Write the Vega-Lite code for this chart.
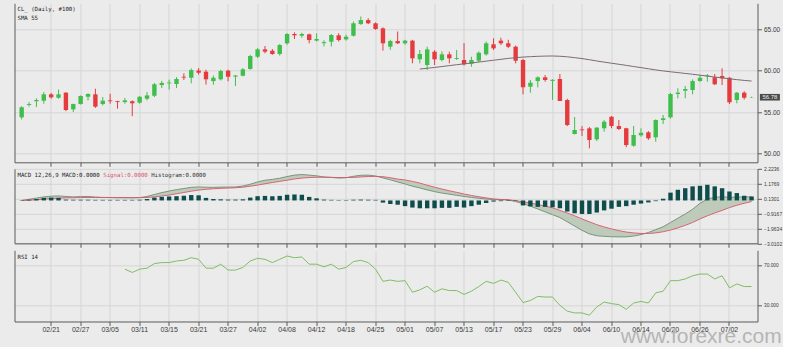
{
  "$schema": "https://vega.github.io/schema/vega-lite/v6.json",
  "background": "#ebebeb",
  "padding": {"left": 14.5, "top": 3.3, "right": 0, "bottom": 0},
  "bounds": "flush",
  "spacing": 6.5,
  "resolve": {"scale": {"x": "shared"}},
  "title": {"text": "www.forexre.com", "orient": "bottom", "anchor": "end", "font": "Liberation Sans", "fontSize": 21, "fontWeight": "normal", "color": "#b5b5b5", "offset": -6.5, "baseline": "top"},
  "config": {
    "view": {"stroke": null},
    "axis": {"domainColor": "#5a5a5a", "tickColor": "#5a5a5a", "gridColor": "#d5d5d5", "gridWidth": 1, "labelColor": "#3a3a3a", "labelFont": "Liberation Sans", "tickSize": 4}
  },
  "datasets": {
    "cl": [
      {"d":"02/15","o":54.36,"h":55.70,"l":54.10,"c":55.57,"sma":null,"macd":0.00,"sig":0.00,"hist":0.02,"rsi":null},
      {"d":"02/18","o":55.85,"h":56.20,"l":55.65,"c":55.96,"sma":null,"macd":0.08,"sig":0.02,"hist":0.05,"rsi":null},
      {"d":"02/19","o":56.30,"h":56.65,"l":55.60,"c":56.45,"sma":null,"macd":0.17,"sig":0.05,"hist":0.10,"rsi":null},
      {"d":"02/20","o":56.36,"h":57.40,"l":56.00,"c":57.13,"sma":null,"macd":0.25,"sig":0.09,"hist":0.18,"rsi":null},
      {"d":"02/21","o":57.13,"h":57.30,"l":56.60,"c":56.77,"sma":null,"macd":0.30,"sig":0.13,"hist":0.20,"rsi":null},
      {"d":"02/22","o":56.72,"h":57.70,"l":56.60,"c":57.13,"sma":null,"macd":0.32,"sig":0.16,"hist":0.18,"rsi":null},
      {"d":"02/25","o":57.33,"h":57.40,"l":55.10,"c":55.24,"sma":null,"macd":0.28,"sig":0.18,"hist":0.06,"rsi":null},
      {"d":"02/26","o":55.32,"h":56.00,"l":55.00,"c":55.96,"sma":null,"macd":0.25,"sig":0.19,"hist":0.05,"rsi":null},
      {"d":"02/27","o":55.96,"h":57.00,"l":55.90,"c":56.93,"sma":null,"macd":0.27,"sig":0.20,"hist":0.05,"rsi":null},
      {"d":"02/28","o":56.84,"h":57.25,"l":56.40,"c":57.17,"sma":null,"macd":0.28,"sig":0.21,"hist":0.05,"rsi":null},
      {"d":"03/01","o":57.13,"h":57.80,"l":55.50,"c":55.64,"sma":null,"macd":0.24,"sig":0.21,"hist":0.04,"rsi":null},
      {"d":"03/04","o":55.96,"h":56.80,"l":55.80,"c":56.36,"sma":null,"macd":0.21,"sig":0.21,"hist":0.04,"rsi":null},
      {"d":"03/05","o":56.40,"h":57.20,"l":56.00,"c":56.30,"sma":null,"macd":0.20,"sig":0.21,"hist":0.04,"rsi":null},
      {"d":"03/06","o":56.30,"h":56.35,"l":55.40,"c":56.20,"sma":null,"macd":0.19,"sig":0.20,"hist":0.04,"rsi":null},
      {"d":"03/07","o":56.20,"h":56.70,"l":56.00,"c":56.40,"sma":null,"macd":0.19,"sig":0.20,"hist":0.04,"rsi":66.5},
      {"d":"03/08","o":56.30,"h":56.40,"l":54.50,"c":56.05,"sma":null,"macd":0.18,"sig":0.20,"hist":0.04,"rsi":63.2},
      {"d":"03/11","o":56.12,"h":56.90,"l":56.00,"c":56.84,"sma":null,"macd":0.20,"sig":0.20,"hist":0.05,"rsi":66.5},
      {"d":"03/12","o":56.60,"h":57.40,"l":56.40,"c":57.00,"sma":null,"macd":0.28,"sig":0.21,"hist":0.10,"rsi":67.5},
      {"d":"03/13","o":56.96,"h":58.50,"l":56.80,"c":58.34,"sma":null,"macd":0.42,"sig":0.25,"hist":0.20,"rsi":72.1},
      {"d":"03/14","o":58.25,"h":58.75,"l":57.90,"c":58.50,"sma":null,"macd":0.55,"sig":0.31,"hist":0.25,"rsi":73.1},
      {"d":"03/15","o":58.45,"h":58.90,"l":57.70,"c":58.55,"sma":null,"macd":0.66,"sig":0.38,"hist":0.28,"rsi":73.1},
      {"d":"03/18","o":58.37,"h":59.20,"l":57.90,"c":58.98,"sma":null,"macd":0.76,"sig":0.47,"hist":0.30,"rsi":74.7},
      {"d":"03/19","o":59.25,"h":59.66,"l":58.86,"c":59.15,"sma":null,"macd":0.84,"sig":0.56,"hist":0.33,"rsi":75.4},
      {"d":"03/20","o":59.13,"h":60.26,"l":58.46,"c":60.06,"sma":null,"macd":0.92,"sig":0.65,"hist":0.38,"rsi":78.0},
      {"d":"03/21","o":60.00,"h":60.30,"l":59.50,"c":59.73,"sma":null,"macd":0.95,"sig":0.73,"hist":0.36,"rsi":76.4},
      {"d":"03/22","o":59.86,"h":60.10,"l":58.30,"c":58.94,"sma":null,"macd":0.93,"sig":0.78,"hist":0.18,"rsi":67.5},
      {"d":"03/25","o":58.73,"h":59.40,"l":58.30,"c":59.13,"sma":null,"macd":0.92,"sig":0.82,"hist":0.10,"rsi":67.5},
      {"d":"03/26","o":58.94,"h":60.10,"l":58.80,"c":59.94,"sma":null,"macd":0.94,"sig":0.85,"hist":0.08,"rsi":71.5},
      {"d":"03/27","o":59.98,"h":60.10,"l":58.70,"c":59.25,"sma":null,"macd":0.94,"sig":0.87,"hist":0.06,"rsi":65.6},
      {"d":"03/28","o":59.27,"h":59.46,"l":58.13,"c":59.40,"sma":null,"macd":0.95,"sig":0.89,"hist":0.06,"rsi":65.6},
      {"d":"03/29","o":59.37,"h":60.30,"l":59.30,"c":60.14,"sma":null,"macd":1.01,"sig":0.93,"hist":0.08,"rsi":68.2},
      {"d":"04/01","o":60.18,"h":61.90,"l":60.10,"c":61.75,"sma":null,"macd":1.14,"sig":1.00,"hist":0.20,"rsi":74.7},
      {"d":"04/02","o":61.66,"h":62.70,"l":61.50,"c":62.55,"sma":null,"macd":1.30,"sig":1.08,"hist":0.30,"rsi":77.4},
      {"d":"04/03","o":62.55,"h":62.95,"l":62.07,"c":62.27,"sma":null,"macd":1.42,"sig":1.17,"hist":0.32,"rsi":76.4},
      {"d":"04/04","o":62.39,"h":62.60,"l":61.90,"c":61.99,"sma":null,"macd":1.48,"sig":1.26,"hist":0.30,"rsi":73.1},
      {"d":"04/05","o":61.99,"h":63.20,"l":61.80,"c":63.07,"sma":null,"macd":1.56,"sig":1.34,"hist":0.32,"rsi":76.4},
      {"d":"04/08","o":63.28,"h":64.50,"l":63.10,"c":64.40,"sma":null,"macd":1.68,"sig":1.42,"hist":0.40,"rsi":79.7},
      {"d":"04/09","o":64.40,"h":64.60,"l":63.80,"c":64.24,"sma":null,"macd":1.78,"sig":1.51,"hist":0.42,"rsi":78.0},
      {"d":"04/10","o":64.20,"h":64.55,"l":63.95,"c":64.40,"sma":null,"macd":1.82,"sig":1.57,"hist":0.40,"rsi":78.7},
      {"d":"04/11","o":64.36,"h":64.45,"l":63.28,"c":63.67,"sma":null,"macd":1.78,"sig":1.61,"hist":0.25,"rsi":71.5},
      {"d":"04/12","o":63.60,"h":64.48,"l":63.50,"c":63.80,"sma":null,"macd":1.73,"sig":1.63,"hist":0.15,"rsi":71.5},
      {"d":"04/15","o":63.30,"h":63.65,"l":62.90,"c":63.42,"sma":null,"macd":1.65,"sig":1.63,"hist":0.06,"rsi":68.8},
      {"d":"04/16","o":63.47,"h":64.40,"l":62.90,"c":64.28,"sma":null,"macd":1.62,"sig":1.62,"hist":0.04,"rsi":71.5},
      {"d":"04/17","o":64.24,"h":64.50,"l":63.50,"c":63.67,"sma":null,"macd":1.57,"sig":1.61,"hist":0.03,"rsi":66.5},
      {"d":"04/18","o":63.75,"h":64.30,"l":63.60,"c":64.07,"sma":null,"macd":1.60,"sig":1.61,"hist":0.03,"rsi":68.2},
      {"d":"04/22","o":64.19,"h":65.90,"l":64.10,"c":65.69,"sma":null,"macd":1.70,"sig":1.62,"hist":0.05,"rsi":74.1},
      {"d":"04/23","o":65.60,"h":66.50,"l":65.50,"c":66.08,"sma":null,"macd":1.77,"sig":1.65,"hist":0.06,"rsi":75.4},
      {"d":"04/24","o":66.08,"h":66.30,"l":65.60,"c":65.69,"sma":null,"macd":1.78,"sig":1.68,"hist":0.05,"rsi":73.1},
      {"d":"04/25","o":65.69,"h":65.80,"l":64.90,"c":65.00,"sma":null,"macd":1.72,"sig":1.69,"hist":0.04,"rsi":66.5},
      {"d":"04/26","o":65.08,"h":65.20,"l":62.40,"c":63.28,"sma":null,"macd":1.58,"sig":1.67,"hist":-0.15,"rsi":54.3},
      {"d":"04/29","o":62.87,"h":63.70,"l":62.50,"c":63.56,"sma":null,"macd":1.45,"sig":1.60,"hist":-0.25,"rsi":55.6},
      {"d":"04/30","o":63.55,"h":64.70,"l":63.20,"c":63.28,"sma":null,"macd":1.30,"sig":1.50,"hist":-0.30,"rsi":54.3},
      {"d":"05/01","o":63.28,"h":63.70,"l":63.10,"c":63.60,"sma":null,"macd":1.16,"sig":1.44,"hist":-0.40,"rsi":55.0},
      {"d":"05/02","o":63.60,"h":63.70,"l":60.87,"c":61.47,"sma":null,"macd":1.00,"sig":1.34,"hist":-0.50,"rsi":43.4},
      {"d":"05/03","o":61.35,"h":62.47,"l":60.87,"c":61.99,"sma":60.18,"macd":0.88,"sig":1.22,"hist":-0.55,"rsi":45.8},
      {"d":"05/06","o":60.66,"h":62.87,"l":60.06,"c":62.55,"sma":60.27,"macd":0.74,"sig":1.07,"hist":-0.55,"rsi":49.4},
      {"d":"05/07","o":62.27,"h":62.45,"l":60.66,"c":61.35,"sma":60.37,"macd":0.62,"sig":0.93,"hist":-0.55,"rsi":43.4},
      {"d":"05/08","o":61.27,"h":62.30,"l":61.10,"c":61.95,"sma":60.48,"macd":0.52,"sig":0.80,"hist":-0.52,"rsi":46.8},
      {"d":"05/09","o":61.95,"h":62.27,"l":60.87,"c":61.47,"sma":60.59,"macd":0.44,"sig":0.68,"hist":-0.52,"rsi":45.1},
      {"d":"05/10","o":61.40,"h":62.47,"l":61.27,"c":61.50,"sma":60.70,"macd":0.36,"sig":0.57,"hist":-0.45,"rsi":45.1},
      {"d":"05/13","o":61.27,"h":63.30,"l":60.60,"c":60.75,"sma":60.80,"macd":0.28,"sig":0.45,"hist":-0.50,"rsi":41.2},
      {"d":"05/14","o":60.80,"h":61.66,"l":60.46,"c":61.27,"sma":60.91,"macd":0.21,"sig":0.35,"hist":-0.40,"rsi":44.4},
      {"d":"05/15","o":61.18,"h":62.30,"l":61.00,"c":62.14,"sma":61.02,"macd":0.15,"sig":0.26,"hist":-0.30,"rsi":49.1},
      {"d":"05/16","o":61.95,"h":63.50,"l":61.80,"c":63.28,"sma":61.13,"macd":0.10,"sig":0.18,"hist":-0.18,"rsi":54.3},
      {"d":"05/17","o":63.16,"h":63.88,"l":62.47,"c":62.67,"sma":61.24,"macd":0.06,"sig":0.11,"hist":-0.08,"rsi":52.3},
      {"d":"05/20","o":63.60,"h":63.95,"l":63.07,"c":63.28,"sma":61.35,"macd":0.05,"sig":0.07,"hist":-0.05,"rsi":55.6},
      {"d":"05/21","o":63.28,"h":63.70,"l":62.70,"c":62.87,"sma":61.46,"macd":0.04,"sig":0.05,"hist":-0.04,"rsi":53.3},
      {"d":"05/22","o":62.87,"h":63.00,"l":60.87,"c":61.18,"sma":61.55,"macd":-0.08,"sig":-0.02,"hist":-0.03,"rsi":43.4},
      {"d":"05/23","o":61.27,"h":61.40,"l":57.13,"c":57.98,"sma":61.62,"macd":-0.22,"sig":-0.10,"hist":-0.35,"rsi":33.0},
      {"d":"05/24","o":58.05,"h":58.86,"l":57.33,"c":58.53,"sma":61.67,"macd":-0.40,"sig":-0.18,"hist":-0.42,"rsi":35.2},
      {"d":"05/27","o":58.73,"h":59.30,"l":57.97,"c":59.18,"sma":61.71,"macd":-0.60,"sig":-0.28,"hist":-0.45,"rsi":39.2},
      {"d":"05/28","o":59.18,"h":59.46,"l":58.65,"c":58.86,"sma":61.74,"macd":-0.80,"sig":-0.40,"hist":-0.45,"rsi":38.6},
      {"d":"05/29","o":58.75,"h":58.95,"l":56.45,"c":58.88,"sma":61.75,"macd":-1.00,"sig":-0.52,"hist":-0.48,"rsi":38.6},
      {"d":"05/30","o":58.98,"h":59.58,"l":56.33,"c":56.33,"sma":61.72,"macd":-1.20,"sig":-0.70,"hist":-0.55,"rsi":30.3},
      {"d":"05/31","o":56.45,"h":56.60,"l":53.30,"c":53.43,"sma":61.65,"macd":-1.50,"sig":-0.88,"hist":-0.78,"rsi":24.4},
      {"d":"06/03","o":52.35,"h":54.40,"l":52.30,"c":52.83,"sma":61.55,"macd":-1.80,"sig":-1.08,"hist":-0.90,"rsi":22.7},
      {"d":"06/04","o":52.90,"h":53.30,"l":52.10,"c":52.80,"sma":61.44,"macd":-2.10,"sig":-1.30,"hist":-0.95,"rsi":22.7},
      {"d":"06/05","o":53.03,"h":53.20,"l":50.63,"c":51.63,"sma":61.30,"macd":-2.35,"sig":-1.50,"hist":-0.95,"rsi":20.4},
      {"d":"06/06","o":51.71,"h":53.20,"l":51.50,"c":53.11,"sma":61.15,"macd":-2.48,"sig":-1.70,"hist":-0.85,"rsi":28.6},
      {"d":"06/07","o":53.04,"h":54.04,"l":52.63,"c":53.83,"sma":61.01,"macd":-2.52,"sig":-1.86,"hist":-0.70,"rsi":33.6},
      {"d":"06/10","o":54.43,"h":54.50,"l":53.04,"c":53.31,"sma":60.88,"macd":-2.55,"sig":-2.00,"hist":-0.58,"rsi":32.0},
      {"d":"06/11","o":53.31,"h":54.04,"l":52.83,"c":52.95,"sma":60.75,"macd":-2.56,"sig":-2.12,"hist":-0.45,"rsi":31.0},
      {"d":"06/12","o":53.04,"h":53.10,"l":50.75,"c":51.02,"sma":60.62,"macd":-2.56,"sig":-2.22,"hist":-0.40,"rsi":26.3},
      {"d":"06/13","o":50.94,"h":53.31,"l":50.82,"c":52.23,"sma":60.48,"macd":-2.50,"sig":-2.28,"hist":-0.30,"rsi":32.6},
      {"d":"06/14","o":52.19,"h":53.04,"l":52.02,"c":52.50,"sma":60.35,"macd":-2.40,"sig":-2.32,"hist":-0.22,"rsi":34.2},
      {"d":"06/17","o":52.55,"h":52.71,"l":51.63,"c":51.83,"sma":60.21,"macd":-2.25,"sig":-2.32,"hist":-0.14,"rsi":32.6},
      {"d":"06/18","o":51.95,"h":54.12,"l":51.42,"c":54.04,"sma":60.07,"macd":-2.05,"sig":-2.28,"hist":-0.05,"rsi":42.8},
      {"d":"06/19","o":54.04,"h":54.64,"l":53.55,"c":54.24,"sma":59.95,"macd":-1.85,"sig":-2.20,"hist":0.12,"rsi":44.4},
      {"d":"06/20","o":54.36,"h":57.30,"l":54.20,"c":57.17,"sma":59.85,"macd":-1.55,"sig":-2.08,"hist":0.55,"rsi":55.0},
      {"d":"06/21","o":57.17,"h":57.86,"l":56.65,"c":57.33,"sma":59.75,"macd":-1.25,"sig":-1.93,"hist":0.75,"rsi":55.0},
      {"d":"06/24","o":57.57,"h":58.13,"l":56.65,"c":57.77,"sma":59.65,"macd":-0.95,"sig":-1.75,"hist":0.86,"rsi":56.7},
      {"d":"06/25","o":57.65,"h":58.94,"l":57.13,"c":58.73,"sma":59.55,"macd":-0.62,"sig":-1.55,"hist":0.99,"rsi":59.9},
      {"d":"06/26","o":58.73,"h":59.46,"l":58.65,"c":59.13,"sma":59.44,"macd":-0.20,"sig":-1.30,"hist":1.03,"rsi":61.6},
      {"d":"06/27","o":59.30,"h":59.58,"l":58.65,"c":59.40,"sma":59.33,"macd":0.10,"sig":-1.08,"hist":1.10,"rsi":61.6},
      {"d":"06/28","o":59.18,"h":59.58,"l":58.25,"c":58.34,"sma":59.22,"macd":0.22,"sig":-0.88,"hist":0.99,"rsi":56.7},
      {"d":"07/01","o":59.34,"h":60.26,"l":58.25,"c":59.06,"sma":59.11,"macd":0.26,"sig":-0.70,"hist":0.86,"rsi":59.9},
      {"d":"07/02","o":59.13,"h":59.20,"l":55.96,"c":56.17,"sma":59.00,"macd":0.22,"sig":-0.50,"hist":0.63,"rsi":47.8},
      {"d":"07/03","o":56.45,"h":57.40,"l":56.05,"c":57.33,"sma":58.90,"macd":0.24,"sig":-0.34,"hist":0.52,"rsi":51.7},
      {"d":"07/05","o":57.33,"h":57.50,"l":56.50,"c":56.72,"sma":58.81,"macd":0.25,"sig":-0.20,"hist":0.33,"rsi":49.1},
      {"d":"07/08","o":56.75,"h":56.85,"l":56.70,"c":56.78,"sma":58.73,"macd":0.25,"sig":-0.08,"hist":0.28,"rsi":49.1}
    ]
  },
  "vconcat": [
    {
      "width": 743,
      "height": 159,
      "data": {"name": "cl"},
      "resolve": {"axis": {"y": "independent"}},
      "encoding": {
        "x": {"field": "d", "type": "ordinal", "scale": {"paddingInner": 0, "paddingOuter": 0.387, "align": 0.61},
              "axis": {"title": null, "labels": false, "grid": true, "bandPosition": 0.5, "values": ["02/21","02/27","03/05","03/11","03/15","03/21","03/27","04/02","04/08","04/12","04/18","04/25","05/01","05/07","05/13","05/17","05/23","05/29","06/04","06/10","06/14","06/20","06/26","07/02"]}}
      },
      "layer": [
        {
          "mark": {"type": "rule", "strokeWidth": 1},
          "encoding": {
            "y": {"field": "l", "type": "quantitative", "scale": {"domain": [48.94, 68.1], "nice": false, "zero": false},
                  "axis": {"orient": "right", "title": null, "values": [50, 55, 60, 65], "format": ".2f", "grid": true, "labelFontSize": 6.5, "labelPadding": 2}},
            "y2": {"field": "h"},
            "color": {"condition": {"test": "datum.c >= datum.o", "value": "#3fbe4c"}, "value": "#e53b3f"}
          }
        },
        {
          "mark": {"type": "bar", "size": 4.4},
          "encoding": {
            "y": {"field": "o", "type": "quantitative", "axis": null},
            "y2": {"field": "c"},
            "color": {"condition": {"test": "datum.c >= datum.o", "value": "#3fbe4c"}, "value": "#e53b3f"}
          }
        },
        {
          "mark": {"type": "line", "color": "#7b6a70", "strokeWidth": 1},
          "encoding": {
            "y": {"field": "sma", "type": "quantitative", "axis": {"orient": "left", "title": null, "labels": false, "ticks": false, "grid": false, "domain": true}}
          }
        },
        {
          "data": {"values": [{"d": "07/08", "p": 56.78}]},
          "mark": {"type": "point", "shape": "M-1,-0.33H1V0.33H-1Z", "size": 400, "filled": true, "color": "#4a4a4a", "opacity": 1, "xOffset": 18.3},
          "encoding": {"y": {"field": "p", "type": "quantitative", "axis": null}}
        },
        {
          "data": {"values": [{"d": "07/08", "p": 56.78}]},
          "mark": {"type": "text", "dx": 18.3, "font": "Liberation Sans", "fontSize": 6, "color": "#eeeeee"},
          "encoding": {"y": {"field": "p", "type": "quantitative", "axis": null}, "text": {"field": "p", "type": "quantitative", "format": ".2f"}}
        },
        {
          "data": {"values": [{}]},
          "mark": {"type": "text", "text": "CL_ (Daily, #100)", "align": "left", "baseline": "top", "dx": -4.2, "dy": 2.5, "font": "DejaVu Sans Mono", "fontSize": 5.7, "color": "#222222"},
          "encoding": {"x": {"datum": "02/15", "type": "ordinal"}, "y": {"datum": 68.1, "type": "quantitative", "axis": null}}
        },
        {
          "data": {"values": [{}]},
          "mark": {"type": "text", "text": "SMA 55", "align": "left", "baseline": "top", "dx": -4.2, "dy": 11.8, "font": "DejaVu Sans Mono", "fontSize": 5.7, "color": "#222222"},
          "encoding": {"x": {"datum": "02/15", "type": "ordinal"}, "y": {"datum": 68.1, "type": "quantitative", "axis": null}}
        }
      ]
    },
    {
      "width": 743,
      "height": 74.5,
      "data": {"name": "cl"},
      "resolve": {"axis": {"y": "independent"}},
      "encoding": {
        "x": {"field": "d", "type": "ordinal", "scale": {"paddingInner": 0, "paddingOuter": 0.387, "align": 0.61},
              "axis": {"title": null, "labels": false, "grid": true, "bandPosition": 0.5, "values": ["02/21","02/27","03/05","03/11","03/15","03/21","03/27","04/02","04/08","04/12","04/18","04/25","05/01","05/07","05/13","05/17","05/23","05/29","06/04","06/10","06/14","06/20","06/26","07/02"]}}
      },
      "layer": [
        {
          "mark": {"type": "area", "color": "#b9c8b5", "opacity": 0.9},
          "encoding": {
            "y": {"field": "macd", "type": "quantitative", "scale": {"domain": [-3.0102, 2.2236], "nice": false, "zero": false},
                  "axis": {"orient": "right", "title": null, "values": [-3.0102, -1.9634, -0.9167, 0.1301, 1.1769, 2.2236], "format": ".4f", "grid": true, "labelFontSize": 5, "labelPadding": 2}},
            "y2": {"field": "sig"}
          }
        },
        {
          "mark": {"type": "line", "color": "#6f8d70", "strokeWidth": 0.9},
          "encoding": {
            "y": {"field": "macd", "type": "quantitative", "axis": {"orient": "left", "title": null, "labels": false, "ticks": false, "grid": false, "domain": true}}
          }
        },
        {
          "mark": {"type": "line", "color": "#d9566b", "strokeWidth": 0.9},
          "encoding": {"y": {"field": "sig", "type": "quantitative", "axis": null}}
        },
        {
          "mark": {"type": "bar", "size": 4.4, "color": "#0f4d4d"},
          "encoding": {"y": {"field": "hist", "type": "quantitative", "axis": null}}
        },
        {
          "data": {"values": [{}]},
          "mark": {"type": "text", "text": "MACD 12,26,9 MACD:0.0000", "align": "left", "baseline": "top", "dx": -4.2, "dy": 3, "font": "DejaVu Sans Mono", "fontSize": 5.7, "color": "#222222"},
          "encoding": {"x": {"datum": "02/15", "type": "ordinal"}, "y": {"datum": 2.2236, "type": "quantitative", "axis": null}}
        },
        {
          "data": {"values": [{}]},
          "mark": {"type": "text", "text": "Signal:0.0000", "align": "left", "baseline": "top", "dx": 81.6, "dy": 3, "font": "DejaVu Sans Mono", "fontSize": 5.7, "color": "#d9566b"},
          "encoding": {"x": {"datum": "02/15", "type": "ordinal"}, "y": {"datum": 2.2236, "type": "quantitative", "axis": null}}
        },
        {
          "data": {"values": [{}]},
          "mark": {"type": "text", "text": "Histogram:0.0000", "align": "left", "baseline": "top", "dx": 129.5, "dy": 3, "font": "DejaVu Sans Mono", "fontSize": 5.7, "color": "#333333"},
          "encoding": {"x": {"datum": "02/15", "type": "ordinal"}, "y": {"datum": 2.2236, "type": "quantitative", "axis": null}}
        }
      ]
    },
    {
      "width": 743,
      "height": 71.2,
      "data": {"name": "cl"},
      "resolve": {"axis": {"y": "independent"}},
      "encoding": {
        "x": {"field": "d", "type": "ordinal", "scale": {"paddingInner": 0, "paddingOuter": 0.387, "align": 0.61},
              "axis": {"title": null, "labels": true, "labelAngle": 0, "labelFontSize": 7, "labelPadding": 0, "grid": true, "bandPosition": 0.5, "values": ["02/21","02/27","03/05","03/11","03/15","03/21","03/27","04/02","04/08","04/12","04/18","04/25","05/01","05/07","05/13","05/17","05/23","05/29","06/04","06/10","06/14","06/20","06/26","07/02"]}}
      },
      "layer": [
        {
          "mark": {"type": "line", "color": "#7fbd62", "strokeWidth": 1},
          "encoding": {
            "y": {"field": "rsi", "type": "quantitative", "scale": {"domain": [14.1, 85.4], "nice": false, "zero": false},
                  "axis": {"orient": "right", "title": null, "values": [30, 70], "format": ".3f", "grid": true, "labelFontSize": 4.8, "labelPadding": 2}}
          }
        },
        {
          "data": {"values": [{}]},
          "mark": {"type": "text", "text": "RSI 14", "align": "left", "baseline": "top", "dx": -4.2, "dy": 3.5, "font": "DejaVu Sans Mono", "fontSize": 5.7, "color": "#222222"},
          "encoding": {"x": {"datum": "02/15", "type": "ordinal"}, "y": {"datum": 85.4, "type": "quantitative", "axis": {"orient": "left", "title": null, "labels": false, "ticks": false, "grid": false, "domain": true}}}
        }
      ]
    }
  ]
}
